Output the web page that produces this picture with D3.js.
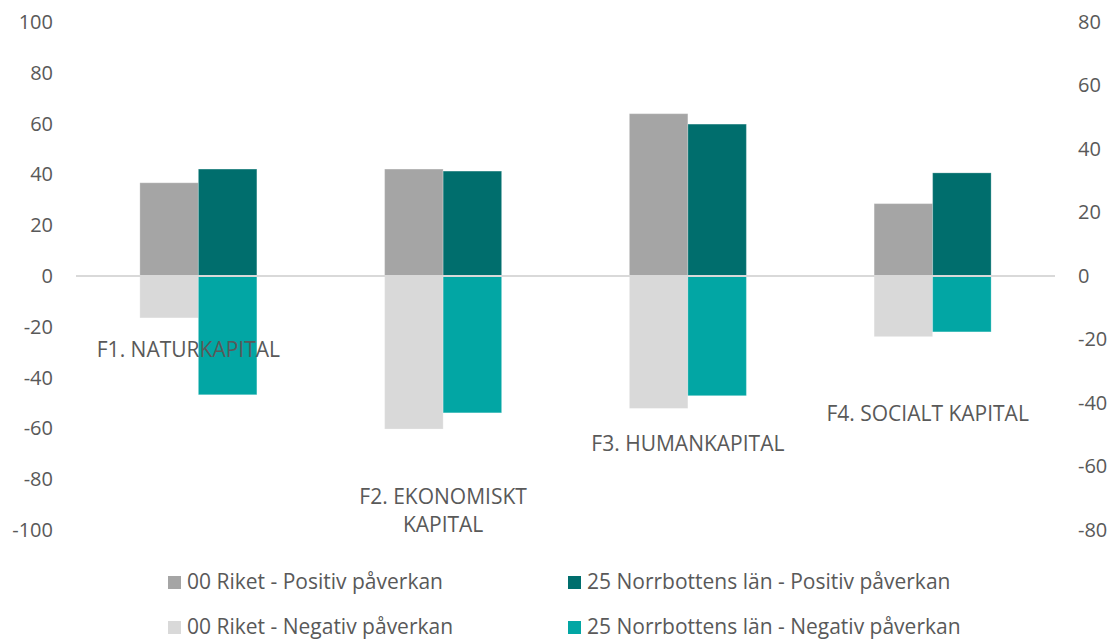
<!DOCTYPE html>
<html>
<head>
<meta charset="utf-8">
<script src="https://cdn.jsdelivr.net/npm/d3@7"></script>
<style>
    body { margin: 0; background: #fff; }
    text { font-family: "Open Sans", "DejaVu Sans", sans-serif; fill: #595959; }
</style>
</head>
<body>
<div id="chart1-container"></div>
<script>
// BAR CHART - positive and negative impact per capital

// Data

var categories = ["F1. NATURKAPITAL", "F2. EKONOMISKT KAPITAL", "F3. HUMANKAPITAL", "F4. SOCIALT KAPITAL"];
var categoryLines = [["F1. NATURKAPITAL"], ["F2. EKONOMISKT", "KAPITAL"], ["F3. HUMANKAPITAL"], ["F4. SOCIALT KAPITAL"]];

var riketPositiv = [36.7, 42.1, 63.9, 28.5];           // left axis
var norrbottenPositiv = [42.1, 41.3, 59.8, 40.6];      // left axis
var riketNegativ = [-13.2, -48.2, -41.7, -19.1];       // right axis
var norrbottenNegativ = [-37.4, -43.1, -37.7, -17.6];  // right axis

var leftTicks = [100, 80, 60, 40, 20, 0, -20, -40, -60, -80, -100];
var rightTicks = [80, 60, 40, 20, 0, -20, -40, -60, -80];

var seriesNames = ["00 Riket - Positiv påverkan", "25 Norrbottens län - Positiv påverkan",
                   "00 Riket - Negativ påverkan", "25 Norrbottens län - Negativ påverkan"];

// Chart variables

var width = 1113;
var height = 640;
var plot = {left: 76, right: 1055, top: 22, bottom: 530};
var colors = {riketPos: "#a5a5a5", norrPos: "#006e6d", riketNeg: "#d9d9d9", norrNeg: "#02a6a4"};
var labelDy = [73, 220, 167, 137];                      // label centre below the zero line (px)
var labelDx = [-10, 0, 0, -5];                          // small horizontal nudges (px)

var svg = d3.select("#chart1-container")
    .append("svg")
    .attr("width", width)
    .attr("height", height);

// Scales

var xScale = d3.scaleBand()
    .domain(categories)
    .range([plot.left, plot.right]);

var xInner = d3.scaleBand()                   // two bars side by side in a category
    .domain([0, 1])
    .range([0, 117]);

var yLeft = d3.scaleLinear()
    .domain([-100, 100])
    .range([plot.bottom, plot.top]);

var yRight = d3.scaleLinear()
    .domain([-80, 80])
    .range([plot.bottom, plot.top]);

// Axes (labels only, no lines)

var fmt = function(d) { return String(d); };   // plain hyphen for negatives

var leftAxis = svg.append("g")
    .attr("transform", "translate(53,0)")
    .call(d3.axisLeft(yLeft).tickValues(leftTicks).tickFormat(fmt).tickSize(0).tickPadding(0));

var rightAxis = svg.append("g")
    .attr("transform", "translate(1078,0)")
    .call(d3.axisRight(yRight).tickValues(rightTicks).tickFormat(fmt).tickSize(0).tickPadding(0));

[leftAxis, rightAxis].forEach(function(ax) {
    ax.select(".domain").remove();
    ax.selectAll("text")
        .style("font-family", "'Open Sans', sans-serif")
        .style("font-size", "20px")
        .attr("fill", "#595959");
});

// Bars

function drawBars(values, yScale, slot, color) {
    svg.append("g")
        .selectAll("rect")
        .data(values)
        .enter()
        .append("rect")
        .attr("x", function(d, i) {
            return xScale(categories[i]) + (xScale.bandwidth() - 117) / 2 + xInner(slot);
        })
        .attr("width", xInner.bandwidth())
        .attr("y", function(d) { return yScale(Math.max(0, d)); })
        .attr("height", function(d) { return Math.abs(yScale(d) - yScale(0)); })
        .attr("fill", color)
        .attr("stroke", "#ffffff")
        .attr("stroke-opacity", 0.25)
        .attr("stroke-width", 1);
}

drawBars(riketPositiv, yLeft, 0, colors.riketPos);
drawBars(norrbottenPositiv, yLeft, 1, colors.norrPos);
drawBars(riketNegativ, yRight, 0, colors.riketNeg);
drawBars(norrbottenNegativ, yRight, 1, colors.norrNeg);

// Zero line

svg.append("line")
    .attr("x1", plot.left)
    .attr("x2", plot.right)
    .attr("y1", yLeft(0))
    .attr("y2", yLeft(0))
    .attr("stroke", "#d9d9d9")
    .attr("stroke-width", 2);

// Category labels

categoryLines.forEach(function(lines, i) {
    var cx = xScale(categories[i]) + xScale.bandwidth() / 2 + labelDx[i];
    var t = svg.append("text")
        .attr("text-anchor", "middle")
        .attr("dominant-baseline", "central")
        .attr("x", cx)
        .attr("y", yLeft(0) + labelDy[i])
        .style("font-size", "21px");
    lines.forEach(function(line, j) {
        t.append("tspan")
            .attr("x", cx)
            .attr("dy", j === 0 ? 0 : 28)
            .text(line);
    });
});

// Legend

var legendColors = [colors.riketPos, colors.norrPos, colors.riketNeg, colors.norrNeg];
var legendX = [168, 568];
var legendY = [582, 627];

var legend = svg.append("g")
    .selectAll("g")
    .data(seriesNames)
    .enter()
    .append("g")
    .attr("transform", function(d, i) {
        return "translate(" + legendX[i % 2] + "," + legendY[Math.floor(i / 2)] + ")";
    });

legend.append("rect")
    .attr("x", 0)
    .attr("y", -6)
    .attr("width", 13)
    .attr("height", 13)
    .attr("fill", function(d, i) { return legendColors[i]; });

legend.append("text")
    .attr("x", 19)
    .attr("dy", "0.35em")
    .style("font-size", "21px")
    .text(function(d) { return d; });
</script>
</body>
</html>
